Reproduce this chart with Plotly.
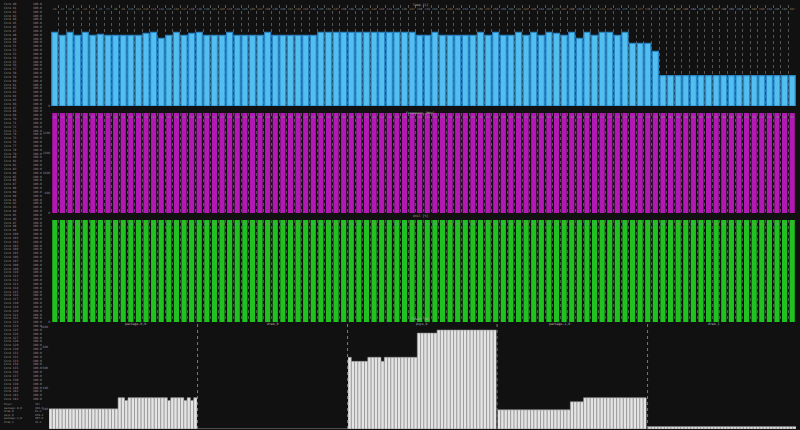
import plotly.graph_objects as go

W, H = 800, 430

# ---------------- data ----------------
CORES = ["C%d" % i for i in range(98)]

TEMP = [73, 70, 73, 70, 73, 70, 71, 70, 70, 70, 70, 70, 72, 73, 67, 70, 73, 70, 72, 73,
        70, 70, 70, 73, 70, 70, 70, 70, 73, 70, 70, 70, 70, 70, 70,
        73, 73, 73, 73, 73, 73, 73, 73, 73, 73, 73, 73, 73,
        70, 70, 73, 70, 70, 70, 70, 70, 73, 70, 73, 70,
        70, 73, 70, 73, 70, 73, 72, 70, 73, 67, 73, 70, 73, 73, 70, 73,
        62, 62, 62,
        54,
        30, 30, 30, 30, 30, 30, 30, 30, 30, 30, 30, 30, 30, 30, 30, 30, 30, 30]
FREQ = [4000] * 98
UTIL = [100.0] * 98

SAMPLES = list(range(45))
PKG0 = [198] * 21 + [307, 307, 280] + [307] * 12 + [280] + [307] * 4 + [280, 307, 280, 307]
DRAM0 = [0] * 45
PSYS0 = [703] + [663] * 5 + [703] * 4 + [663] + [703] * 10 + [940] * 6 + [970] * 18
PKG1 = [188] * 22 + [267] * 4 + [307] * 19
DRAM1 = [23] * 45

POWER_NAMES = ["package-0,0", "dram_0", "psys_0", "package-1,0", "dram_1"]
POWER_NOW = ["264.9", "61.2", "970.4", "307.0", "19.2"]
POWER_SERIES = [PKG0, DRAM0, PSYS0, PKG1, DRAM1]

LEFT_LABELS = ["Core %d" % i for i in range(40, 144)]
LEFT_VALUES = ["100.0"] * len(LEFT_LABELS)

PANEL_TITLES = ["Temp [C]", "Frequency [MHz]", "Util [%]", "Power [W]"]

# ---------------- helpers ----------------
def fx(p):
    return p / W

def fy(p):
    return 1 - p / H

BG = "#111111"
TXT = "#9a9a9a"
MONO = "DejaVu Sans Mono"

fig = go.Figure()

X_DOM = [fx(51), fx(796)]
panels = [
    ("x", "y", TEMP, "#52bff0", dict(color="#2a86c6", width=1.2), 0.8, (5, 106), [0, 100], [0, 100]),
    ("x2", "y2", FREQ, "#b418b4", dict(width=0), 0.68, (113, 213), [0, 4000], [0, 800, 1600, 2400, 3200, 4000]),
    ("x3", "y3", UTIL, "#1fc21f", dict(width=0), 0.68, (220, 322), [0, 100], [0, 100]),
]

layout = dict(
    width=W, height=H, margin=dict(l=0, r=0, t=0, b=0),
    paper_bgcolor=BG, plot_bgcolor=BG, showlegend=False,
    font=dict(family=MONO, color=TXT, size=3),
)

for i, (xa, ya, vals, col, line, wdt, (top, bot), rng, tv) in enumerate(panels):
    fig.add_trace(go.Bar(x=CORES, y=vals, xaxis=xa, yaxis=ya, width=wdt,
                         marker=dict(color=col, line=line), hoverinfo="skip"))
    xk = "xaxis" if xa == "x" else "xaxis" + xa[1:]
    yk = "yaxis" if ya == "y" else "yaxis" + ya[1:]
    layout[xk] = dict(domain=X_DOM, anchor=ya, type="category", side="top",
                      tickson="boundaries", showgrid=True, gridcolor="#555555",
                      griddash="dot", gridwidth=1, ticks="", tickangle=0,
                      ticklabelposition="inside", automargin=False,
                      tickfont=dict(size=2.8, color="#8a8a8a", family=MONO),
                      showline=False, zeroline=False)
    layout[yk] = dict(domain=[fy(bot), fy(top)], anchor=xa, range=rng,
                      tickvals=tv, showgrid=False, zeroline=False, ticks="",
                      automargin=False, tickfont=dict(size=3, color="#8a8a8a", family=MONO))

# power sub-panels
P_DOMS = [(49, 197), (198, 347), (348, 496.5), (497.5, 646.5), (648, 796)]
for k, (series, (a, b)) in enumerate(zip(POWER_SERIES, P_DOMS)):
    xa = "x%d" % (4 + k)
    ya = "y%d" % (4 + k)
    fig.add_trace(go.Bar(x=SAMPLES, y=series, xaxis=xa, yaxis=ya, width=1.0,
                         marker=dict(color="#e4e4e4", line=dict(color="#8e8e8e", width=0.6)),
                         hoverinfo="skip"))
    layout["xaxis%d" % (4 + k)] = dict(domain=[fx(a), fx(b)], anchor=ya,
                                        range=[-0.5, 44.5], showgrid=False, showticklabels=False,
                                        zeroline=False, ticks="", automargin=False)
    layout["yaxis%d" % (4 + k)] = dict(domain=[fy(429), fy(327)], anchor=xa, range=[0, 1000],
                                        dtick=200, showgrid=False, zeroline=False, ticks="",
                                        showticklabels=(k == 0), automargin=False,
                                        tickfont=dict(size=3, color="#8a8a8a", family=MONO))

annotations = []
# panel titles
for t, yp in zip(PANEL_TITLES, [1.5, 109, 216, 323]):
    annotations.append(dict(text=t, x=fx(420), y=fy(yp), xref="paper", yref="paper",
                            showarrow=False, font=dict(size=3.2, color="#b5b5b5", family=MONO)))
# power sub titles
for name, (a, b) in zip(POWER_NAMES, P_DOMS):
    annotations.append(dict(text=name, x=fx((a + b) / 2), y=fy(328), xref="paper", yref="paper",
                            showarrow=False, font=dict(size=3.2, color="#b5b5b5", family=MONO)))
# left column
annotations.append(dict(text="<br>".join(LEFT_LABELS), x=fx(1.5), y=fy(0), xref="paper", yref="paper",
                        xanchor="left", yanchor="top", align="left", showarrow=False,
                        font=dict(size=2.95, color=TXT, family=MONO)))
annotations.append(dict(text="<br>".join(LEFT_VALUES), x=fx(30.5), y=fy(0), xref="paper", yref="paper",
                        xanchor="left", yanchor="top", align="left", showarrow=False,
                        font=dict(size=2.95, color=TXT, family=MONO)))
annotations.append(dict(text="<br>".join(["Power"] + POWER_NAMES), x=fx(1.5), y=fy(400), xref="paper",
                        yref="paper", xanchor="left", yanchor="top", align="left", showarrow=False,
                        font=dict(size=2.7, color=TXT, family=MONO)))
annotations.append(dict(text="<br>".join(["[W]"] + POWER_NOW), x=fx(33), y=fy(400), xref="paper",
                        yref="paper", xanchor="left", yanchor="top", align="left", showarrow=False,
                        font=dict(size=2.7, color=TXT, family=MONO)))
layout["annotations"] = annotations

# separators between power sub-panels
shapes = []
for k in range(1, 5):
    shapes.append(dict(type="line", xref="x%d domain" % (4 + k), yref="paper", x0=-0.003, x1=-0.003,
                       y0=fy(429), y1=fy(322), line=dict(color="#7a7a7a", width=1, dash="dot")))
layout["shapes"] = shapes

fig.update_layout(**layout)
fig.write_html("out.html", config={"displayModeBar": False},
               post_script="document.body.style.margin='0';document.body.style.background='#111111';"
                           "document.body.style.overflow='hidden';")
